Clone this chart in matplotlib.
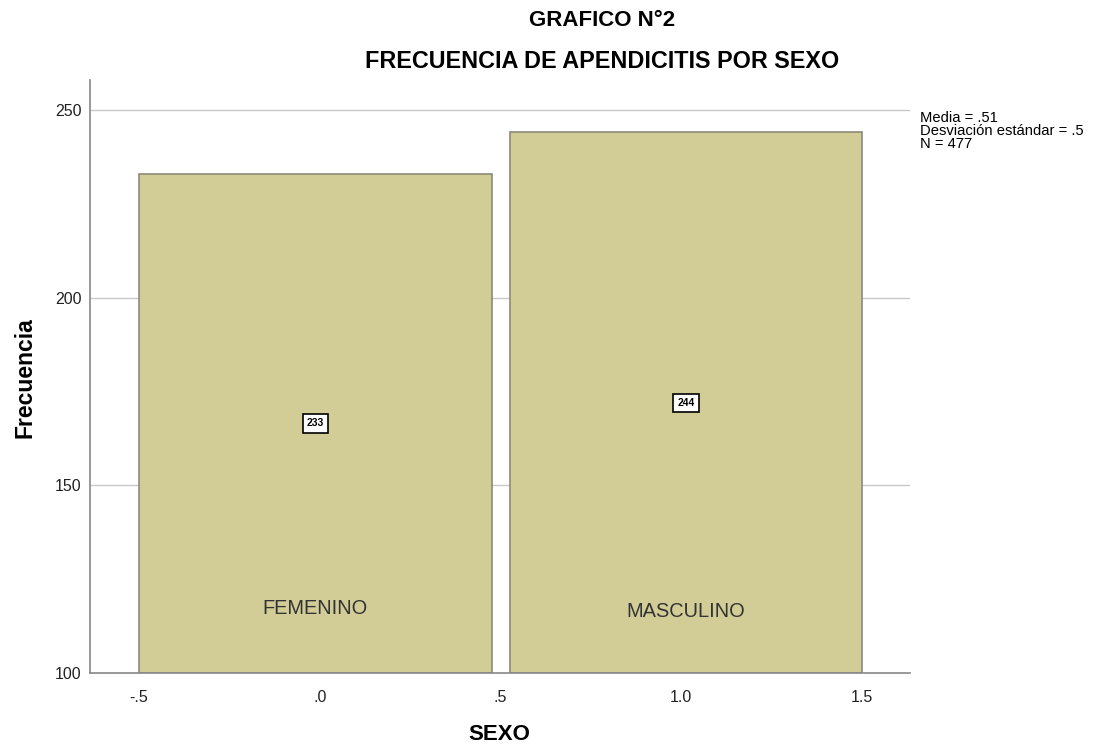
import matplotlib
matplotlib.use("Agg")
import matplotlib.pyplot as plt

plt.rcParams['font.family'] = ['Liberation Sans', 'DejaVu Sans']

categories = ["FEMENINO", "MASCULINO"]
bar_lefts = [-0.5, 0.525]
bar_widths = [0.975, 0.975]
counts = [233, 244]
xticks = [-0.5, 0.0, 0.5, 1.0, 1.5]
xtick_labels = ["-.5", ".0", ".5", "1.0", "1.5"]
yticks = [100, 150, 200, 250]
stats_lines = ["Media = .51", "Desviación estándar = .5", "N = 477"]

W, H = 1101, 747
fig = plt.figure(figsize=(W / 100, H / 100), dpi=100)
ax = fig.add_axes([0.0817, 0.0991, 0.745, 0.794])

ax.set_xlim(-0.636, 1.633)
ax.set_ylim(100, 258)

for y in yticks[1:]:
    ax.axhline(y, color="#c8c8c8", lw=1.0, zorder=0)

ax.bar(bar_lefts, [c - 100 for c in counts], width=bar_widths, bottom=100,
       align="edge", color="#d2cd96", edgecolor="#8c8a78", lw=1.2, zorder=2)

label_y = [117.3, 116.5]
for left, w, c, name, ly in zip(bar_lefts, bar_widths, counts, categories, label_y):
    cx = left + w / 2
    ax.text(cx, (100 + c) / 2, str(c), ha="center", va="center", fontsize=7.5,
            fontweight="bold", zorder=4,
            bbox=dict(boxstyle="square,pad=0.4", fc="white", ec="black", lw=1.2))
    ax.text(cx, ly, name, ha="center", va="center", fontsize=14.4, color="#333333", zorder=4)

ax.set_xticks(xticks)
ax.set_xticklabels(xtick_labels, fontsize=11.5)
ax.set_yticks(yticks)
ax.set_yticklabels([str(v) for v in yticks], fontsize=11.5)
ax.tick_params(axis="x", length=0, pad=12, colors="#222222")
ax.tick_params(axis="y", length=0, pad=6, colors="#222222")

for s in ["top", "right"]:
    ax.spines[s].set_visible(False)
for s in ["left", "bottom"]:
    ax.spines[s].set_color("#888888")
    ax.spines[s].set_linewidth(1.2)

# Axis titles
fig.text(499 / W, 1 - 735 / H, "SEXO", ha="center", va="center",
         fontsize=16, fontweight="bold")
fig.text(25 / W, 1 - 378 / H, "Frecuencia", ha="center", va="center",
         rotation=90, fontsize=16.5, fontweight="bold")

fig.text(0.547, 1 - 20 / H, "GRAFICO N°2", ha="center", va="center", fontsize=16, fontweight="bold")
fig.text(0.547, 1 - 62 / H, "FRECUENCIA DE APENDICITIS POR SEXO", ha="center", va="center",
         fontsize=16.8, fontweight="bold")

for i, line in enumerate(stats_lines):
    fig.text(0.836, 1 - (118 + 13 * i) / H, line, ha="left", va="center", fontsize=10.6)

fig.savefig("out.png", dpi=100, facecolor="white")
